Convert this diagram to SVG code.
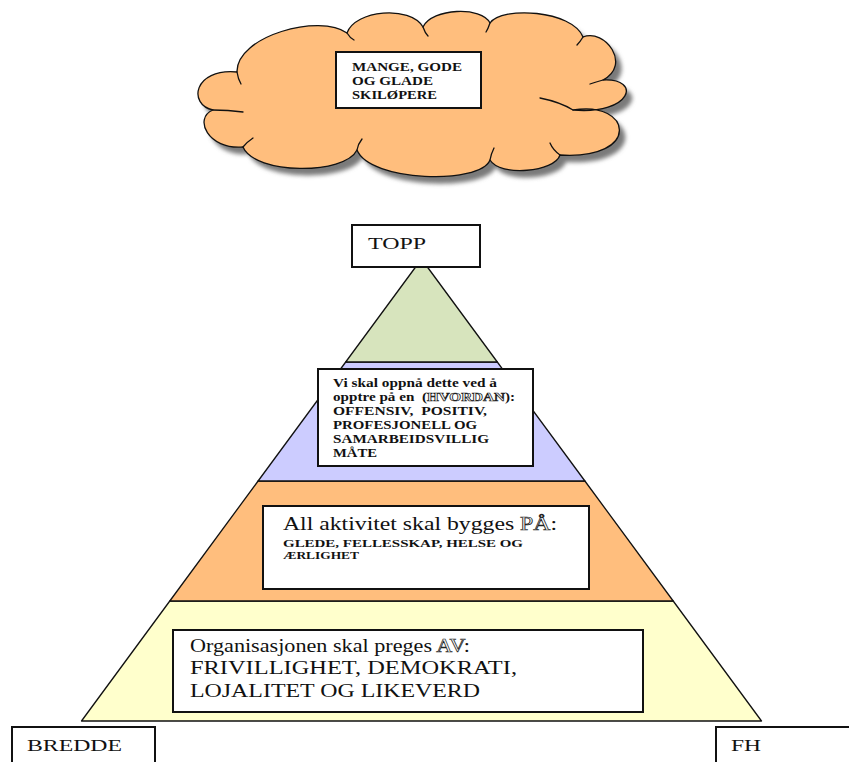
<svg xmlns="http://www.w3.org/2000/svg" width="849" height="762" viewBox="0 0 849 762">
<defs>
<filter id="blur" x="-10%" y="-10%" width="120%" height="130%"><feGaussianBlur stdDeviation="2"/></filter>
<path id="cloudShape" d="M237,72 C236,36 320,13 347,33 C355,10 410,5 423,27 C432,8 482,6 490,23 C502,6 572,10 583,37 C605,28 632,65 603,80 C642,78 632,115 573,110 C632,100 642,160 560,155 C555,172 500,177 490,160 C480,185 370,182 357,150 C345,175 255,175 243,147 C208,150 193,118 213,110 C188,105 193,68 237,72 Z"/>
</defs>
<style>
.edge{stroke:#111;stroke-width:1.3;stroke-linejoin:round}
.box{fill:#fff;stroke:#111;stroke-width:2}
.t{font-family:"Liberation Serif","Times New Roman",serif;fill:#111;white-space:pre}
.b{font-weight:bold}
.ol{fill:#fff;stroke:#222;stroke-width:0.7}
.hook{fill:none;stroke:#111;stroke-width:1.3;stroke-linecap:round}
</style>
<rect width="849" height="762" fill="#fff"/>

<g id="cloud">
<use href="#cloudShape" transform="translate(6,7)" fill="#7a7a7a" filter="url(#blur)"/>
<use href="#cloudShape" fill="#FFBE7D" class="edge"/>
<path class="hook" d="M347,33 Q350,38 354,40 M423,27 Q425,33 428,36 M490,23 Q488,29 486,32 M583,37 Q580,42 577,45 M603,80 Q596,82 590,84 M573,110 Q560,102 540,98 M560,155 Q553,150 550,143 M490,160 Q491,154 494,148 M357,150 Q358,144 362,139 M243,147 Q247,142 253,138 M213,110 Q228,110 243,112 M237,72 Q238,79 241,84"/>
<rect x="336" y="52" width="145" height="56" class="box"/>
<text class="t b" font-family="Liberation Serif, serif" font-size="12"><tspan x="352" y="71" textLength="110" lengthAdjust="spacingAndGlyphs">MANGE, GODE</tspan><tspan x="352" y="85" textLength="81" lengthAdjust="spacingAndGlyphs">OG GLADE</tspan><tspan x="352" y="99" textLength="85" lengthAdjust="spacingAndGlyphs">SKILØPERE</tspan></text>
</g>

<g id="pyramid">
<polygon id="layer-bunn" points="169.8,601 673.2,601 761.5,721 81.5,721" fill="#FFFFCC" class="edge"/>
<polygon id="layer-orange" points="258.1,481 584.9,481 673.2,601 169.8,601" fill="#FFBE7D" class="edge"/>
<polygon id="layer-lilla" points="345.7,362 497.3,362 584.9,481 258.1,481" fill="#CCCCFF" class="edge"/>
<polygon id="layer-topp" points="421.5,259 497.3,362 345.7,362" fill="#D7E4BD" class="edge"/>
</g>

<g id="topp">
<rect x="352" y="225" width="128" height="42" class="box"/>
<text class="t" font-family="Liberation Serif, serif" font-size="16" x="368" y="249" textLength="58" lengthAdjust="spacingAndGlyphs">TOPP</text>
</g>

<g id="hvordan">
<rect x="318" y="369" width="215" height="97" class="box"/>
<text class="t b" font-family="Liberation Serif, serif" font-size="12" x="333" y="387" textLength="164" lengthAdjust="spacingAndGlyphs">Vi skal oppnå dette ved å</text>
<text class="t b" font-family="Liberation Serif, serif" font-size="12" x="333" y="401" textLength="182" lengthAdjust="spacingAndGlyphs">opptre på en  (<tspan class="ol">HVORDAN</tspan>):</text>
<text class="t b" font-family="Liberation Serif, serif" font-size="12" x="333" y="415" textLength="154" lengthAdjust="spacingAndGlyphs">OFFENSIV,  POSITIV,</text>
<text class="t b" font-family="Liberation Serif, serif" font-size="12" x="333" y="429" textLength="144" lengthAdjust="spacingAndGlyphs">PROFESJONELL OG</text>
<text class="t b" font-family="Liberation Serif, serif" font-size="12" x="333" y="443" textLength="156" lengthAdjust="spacingAndGlyphs">SAMARBEIDSVILLIG</text>
<text class="t b" font-family="Liberation Serif, serif" font-size="12" x="333" y="457" textLength="44" lengthAdjust="spacingAndGlyphs">MÅTE</text>
</g>

<g id="paa">
<rect x="263" y="506" width="326" height="83" class="box"/>
<text class="t" font-family="Liberation Serif, serif" font-size="18" x="283" y="530" textLength="274" lengthAdjust="spacingAndGlyphs">All aktivitet skal bygges <tspan class="ol">PÅ</tspan>:</text>
<text class="t b" font-family="Liberation Serif, serif" font-size="11" x="283" y="547" textLength="240" lengthAdjust="spacingAndGlyphs">GLEDE, FELLESSKAP, HELSE OG</text>
<text class="t b" font-family="Liberation Serif, serif" font-size="11" x="283" y="559" textLength="76" lengthAdjust="spacingAndGlyphs">ÆRLIGHET</text>
</g>

<g id="av">
<rect x="173" y="630" width="470" height="82" class="box"/>
<text class="t" font-family="Liberation Serif, serif" font-size="19" x="190" y="652" textLength="280" lengthAdjust="spacingAndGlyphs">Organisasjonen skal preges <tspan class="ol">AV</tspan>:</text>
<text class="t" font-family="Liberation Serif, serif" font-size="19" x="190" y="674" textLength="327" lengthAdjust="spacingAndGlyphs">FRIVILLIGHET, DEMOKRATI,</text>
<text class="t" font-family="Liberation Serif, serif" font-size="19" x="190" y="697" textLength="290" lengthAdjust="spacingAndGlyphs">LOJALITET OG LIKEVERD</text>
</g>

<g id="bredde">
<rect x="12" y="727" width="143" height="45" class="box"/>
<text class="t" font-family="Liberation Serif, serif" font-size="17" x="27" y="751" textLength="95" lengthAdjust="spacingAndGlyphs">BREDDE</text>
</g>

<g id="fh">
<rect x="716" y="727" width="145" height="45" class="box"/>
<text class="t" font-family="Liberation Serif, serif" font-size="17" x="731" y="751" textLength="30" lengthAdjust="spacingAndGlyphs">FH</text>
</g>

<g id="connectors"></g>
</svg>
